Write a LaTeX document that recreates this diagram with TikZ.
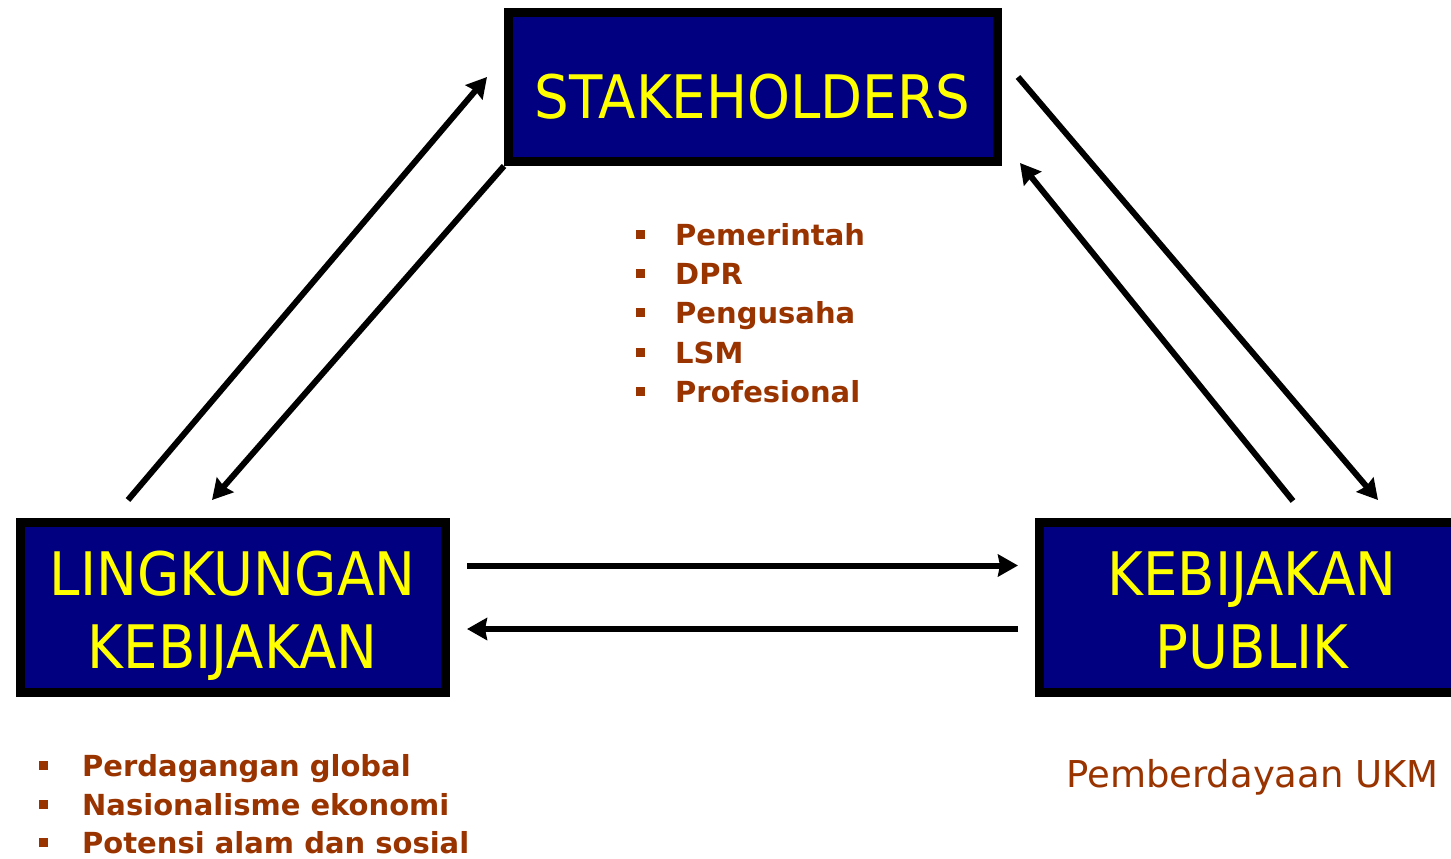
\documentclass[tikz,border=0pt]{standalone}
\usepackage{fontspec}
\setmainfont{DejaVu Sans}
\newfontfamily\boxfont[FakeStretch=0.91]{DejaVu Sans}
\usetikzlibrary{arrows.meta}
\definecolor{navybox}{RGB}{0,0,128}
\definecolor{ylw}{RGB}{255,255,0}
\definecolor{brn}{RGB}{153,51,0}
\tikzset{
  bluebox/.style={draw=black, line width=9pt, fill=navybox, inner sep=0pt},
  boxtext/.style={text=ylw, font=\boxfont\fontsize{60}{72}\selectfont, anchor=base, inner sep=0pt},
  itemtext/.style={text=brn, font=\bfseries\fontsize{29}{34}\selectfont, anchor=base west, inner sep=0pt},
  bul/.style={fill=brn, draw=none, minimum width=9pt, minimum height=9pt, inner sep=0pt},
  plaintext/.style={text=brn, font=\fontsize{37}{44}\selectfont, anchor=base, inner sep=0pt},
  conn/.style={line width=6pt, -{Stealth[length=20pt,width=22pt,inset=2pt]}}
}
\begin{document}
\begin{tikzpicture}[x=1pt,y=-1pt]
\useasboundingbox (0,0) rectangle (1451,859);
\clip (0,0) rectangle (1451,859);
\fill[white] (0,0) rectangle (1451,859);
% boxes
\node[bluebox, minimum width=489pt, minimum height=149pt] (stk) at (753,87) {};
\node[bluebox, minimum width=425pt, minimum height=170pt] (lk) at (233,607.5) {};
\node[bluebox, minimum width=425pt, minimum height=170pt] (kp) at (1252,607.5) {};
% box texts
\node[boxtext] (stkt) at (752.5,118) {STAKEHOLDERS};
\node[boxtext] (lkt1) at (232.5,595) {LINGKUNGAN};
\node[boxtext] (lkt2) at (232.5,668) {KEBIJAKAN};
\node[boxtext] (kpt1) at (1252,595) {KEBIJAKAN};
\node[boxtext] (kpt2) at (1252,668) {PUBLIK};
% connector end points
\coordinate (a1s) at (128,500);
\coordinate (a1e) at (487,77);
\coordinate (a2e) at (212,500);
\coordinate (a3s) at (1018,77);
\coordinate (a3e) at (1378,500);
\coordinate (a4s) at (1293,501);
\coordinate (a4e) at (1020,163);
\coordinate (h1s) at (467,565.5);
\coordinate (h1e) at (1018,565.5);
\coordinate (h2s) at (1018,629);
\coordinate (h2e) at (467,629);
\draw[conn] (a1s) -- (a1e);
\draw[conn] (stk.south west) -- (a2e);
\draw[conn] (a3s) -- (a3e);
\draw[conn] (a4s) -- (a4e);
\draw[conn] (h1s) -- (h1e);
\draw[conn] (h2s) -- (h2e);
% stakeholder list
\foreach \i/\t/\y in {1/Pemerintah/245, 2/DPR/284, 3/Pengusaha/323, 4/LSM/363, 5/Profesional/402}{
  \node[bul] (sb\i) at (640,\y-11) {};
  \node[itemtext] (st\i) at (675,\y) {\t};
}
% environment list
\foreach \i/\t/\y in {1/Perdagangan global/776, 2/Nasionalisme ekonomi/815, 3/Potensi alam dan sosial/853}{
  \node[bul] (lb\i) at (43,\y-11) {};
  \node[itemtext] (lt\i) at (82,\y) {\t};
}
\node[plaintext] (ukm) at (1252.5,787) {Pemberdayaan UKM};
\end{tikzpicture}
\end{document}
